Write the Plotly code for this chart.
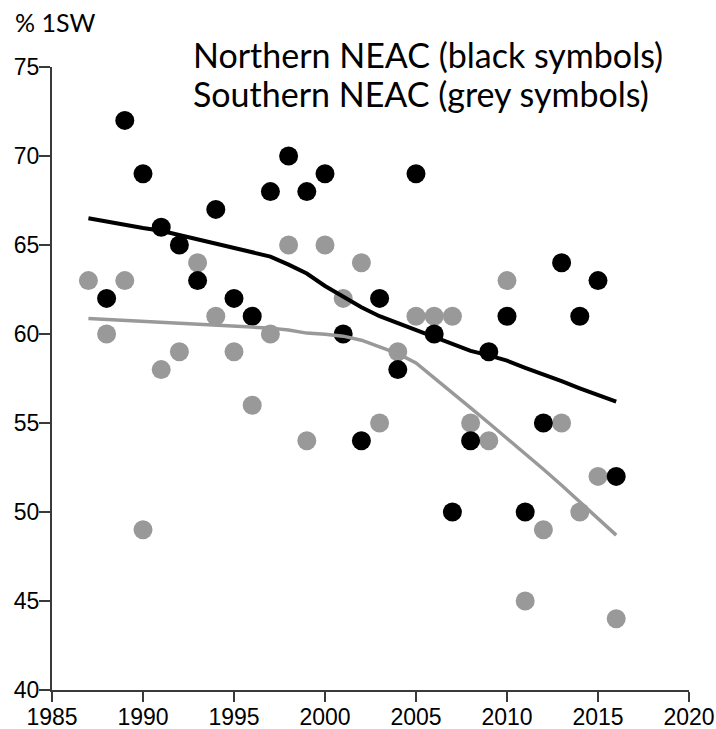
import plotly.graph_objects as go

# Northern NEAC (black symbols)
north_years = list(range(1988, 2017))
north_vals = [62, 72, 69, 66, 65, 63, 67, 62, 61, 68, 70, 68, 69, 60, 54,
              62, 58, 69, 60, 50, 54, 59, 61, 50, 55, 64, 61, 63, 52]

# Southern NEAC (grey symbols)
south_years = list(range(1987, 2017))
south_vals = [63, 60, 63, 49, 58, 59, 64, 61, 59, 56, 60, 65, 54, 65, 62,
              64, 55, 59, 61, 61, 61, 55, 54, 63, 45, 49, 55, 50, 52, 44]

# Smoothed trend lines
trend_years = list(range(1987, 2017))
north_trend = [66.5, 66.3, 66.1, 65.95, 65.8, 65.55, 65.3, 65.1, 64.85, 64.6,
               64.35, 63.9, 63.4, 62.7, 62.1, 61.5, 61.0, 60.6, 60.2, 59.85,
               59.45, 59.05, 58.8, 58.5, 58.1, 57.75, 57.35, 56.95, 56.6, 56.2]
south_trend = [60.87, 60.82, 60.77, 60.72, 60.67, 60.6, 60.55, 60.5, 60.43, 60.38,
               60.33, 60.22, 60.05, 59.98, 59.88, 59.65, 59.25, 58.9, 58.37, 57.55,
               56.7, 55.85, 55.0, 54.15, 53.3, 52.4, 51.5, 50.55, 49.6, 48.7]

x_ticks = [1985, 1990, 1995, 2000, 2005, 2010, 2015, 2020]
y_ticks = [40, 45, 50, 55, 60, 65, 70, 75]

BLACK = "#000000"
GREY = "#999999"
AXIS = "#3a3a3a"
TICKFONT = dict(size=23, family="Liberation Sans", color="#000000")

fig = go.Figure()
fig.add_trace(go.Scatter(x=south_years, y=south_vals, mode="markers",
                         marker=dict(size=19, color=GREY, line=dict(width=0)),
                         showlegend=False))
fig.add_trace(go.Scatter(x=north_years, y=north_vals, mode="markers",
                         marker=dict(size=19, color=BLACK, line=dict(width=0)),
                         showlegend=False))
fig.add_trace(go.Scatter(x=trend_years, y=south_trend, mode="lines",
                         line=dict(color=GREY, width=3.5), showlegend=False))
fig.add_trace(go.Scatter(x=trend_years, y=north_trend, mode="lines",
                         line=dict(color=BLACK, width=4), showlegend=False))

fig.update_layout(
    width=716, height=729,
    margin=dict(l=52, r=27, t=67, b=39, autoexpand=False),
    paper_bgcolor="white", plot_bgcolor="white",
    font=dict(family="Liberation Sans", color="#000000"),
    xaxis=dict(range=[1985, 2020], tickvals=x_ticks, showgrid=False, zeroline=False,
               showline=True, linecolor=AXIS, linewidth=2, ticks="outside",
               ticklen=10, tickwidth=2, tickcolor=AXIS, automargin=False,
               ticklabelstandoff=-5, tickfont=TICKFONT),
    yaxis=dict(range=[40, 75], tickvals=y_ticks, showgrid=False, zeroline=False,
               showline=True, linecolor=AXIS, linewidth=2, ticks="outside",
               ticklen=11, tickwidth=2, tickcolor=AXIS, automargin=False,
               ticklabelstandoff=-5, tickfont=TICKFONT),
    annotations=[
        dict(text="% 1SW", xref="paper", yref="paper", x=(13 - 52) / 637,
             y=(690 - 5) / 623, xanchor="left", yanchor="top", showarrow=False,
             font=dict(family="Lato", size=25, color="#000000")),
        dict(text="Northern NEAC (black symbols)",
             xref="paper", yref="paper", x=(191 - 52) / 637, y=(690 - 32) / 623,
             xanchor="left", yanchor="top", align="left", showarrow=False,
             font=dict(family="Lato", size=34, color="#000000")),
        dict(text="Southern NEAC (grey symbols)",
             xref="paper", yref="paper", x=(191 - 52) / 637, y=(690 - 71) / 623,
             xanchor="left", yanchor="top", align="left", showarrow=False,
             font=dict(family="Lato", size=34, color="#000000")),
    ],
)

fig.write_html("out.html")
